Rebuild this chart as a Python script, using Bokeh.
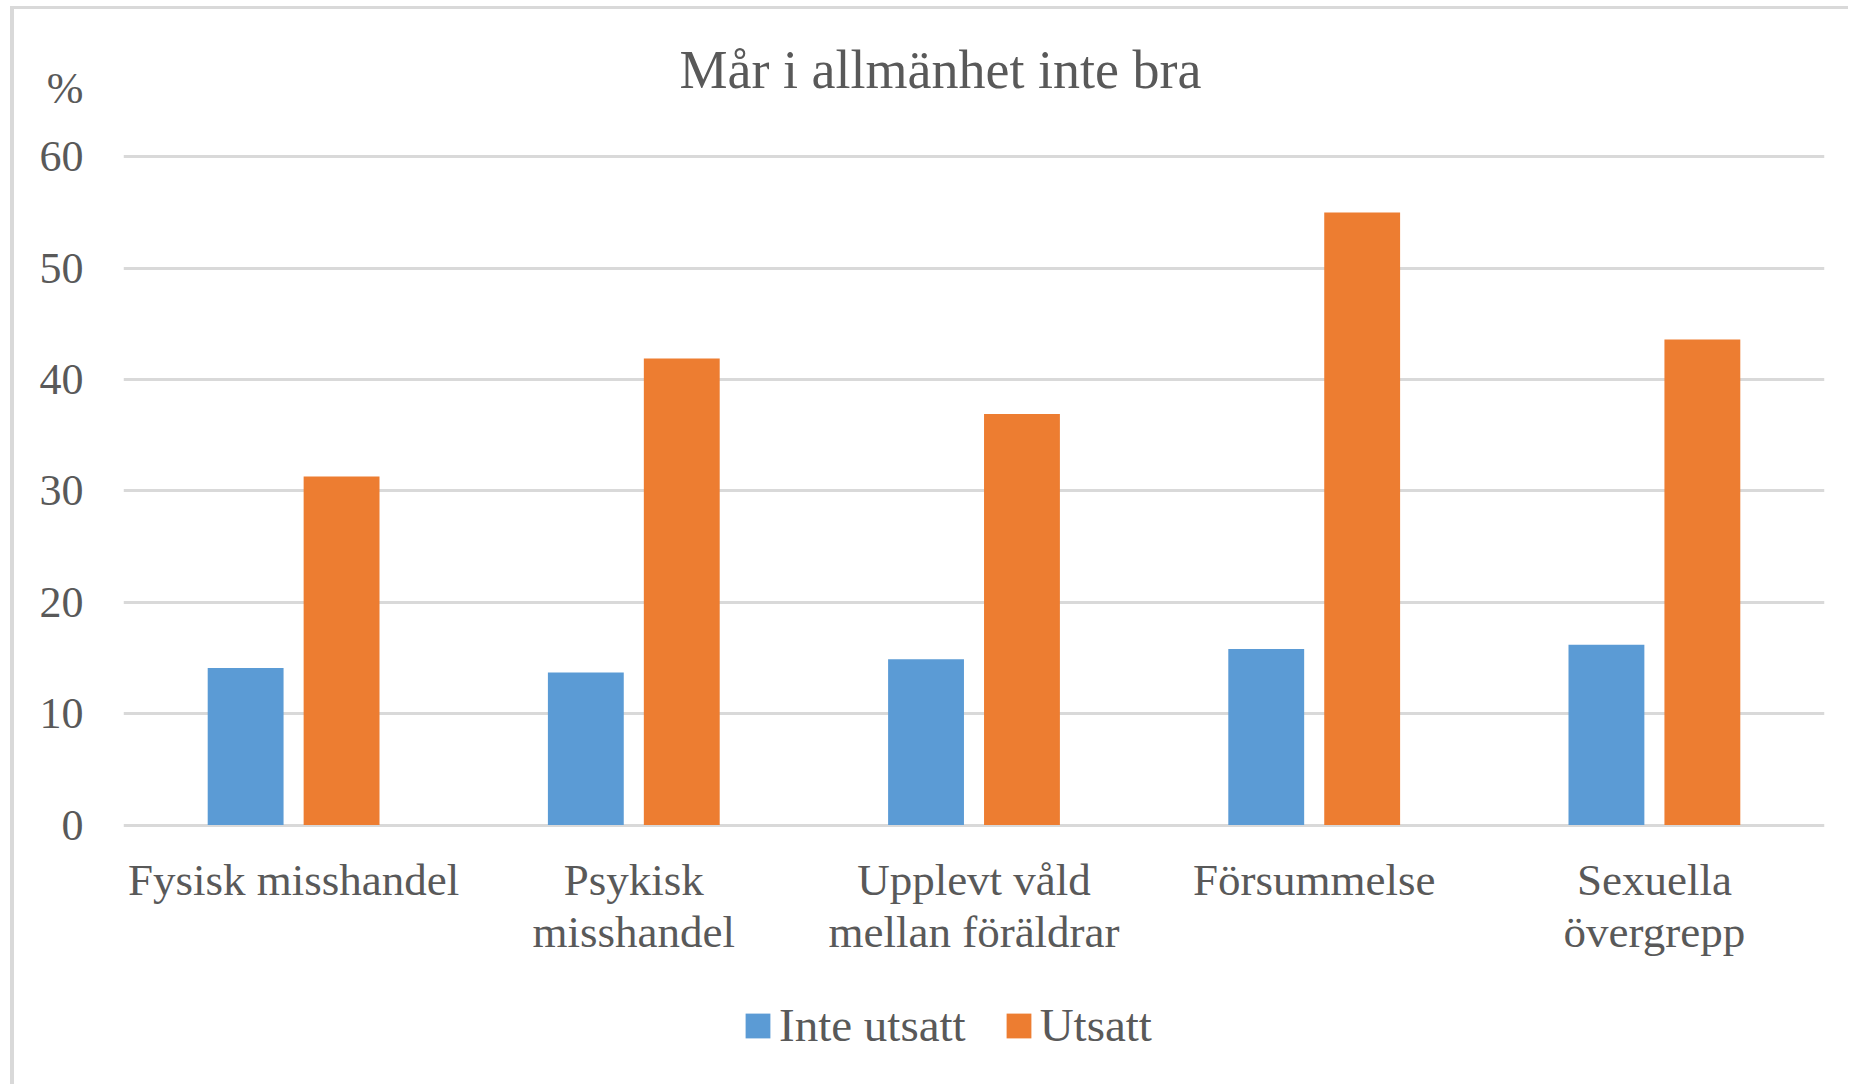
from bokeh.plotting import figure
from bokeh.models import ColumnDataSource, FactorRange, Range1d, FixedTicker, Label, Legend, LegendItem
from bokeh.core.properties import value
from bokeh.transform import dodge
from bokeh.embed import file_html
from bokeh.resources import INLINE

# ---- data ----
categories = ["Fysisk misshandel", "Psykisk\nmisshandel", "Upplevt våld\nmellan föräldrar",
              "Försummelse", "Sexuella\növergrepp"]
inte_utsatt = [14.1, 13.7, 14.9, 15.8, 16.2]
utsatt = [31.3, 41.9, 36.9, 55.0, 43.6]
series_names = ["Inte utsatt", "Utsatt"]
y_ticks = [0, 10, 20, 30, 40, 50, 60]
title_text = "Mår i allmänhet inte bra"
y_unit = "%"

BLUE = "#5b9bd5"
ORANGE = "#ed7d31"
TEXT = "#595959"
GRID = "#d9d9d9"
FONT = "Liberation Serif"

src = ColumnDataSource(dict(cat=categories, inte=inte_utsatt, uts=utsatt))

# the frame reaches down to the legend; the value axis only shows 0..60
p = figure(width=1838, height=1078,
           x_range=FactorRange(*categories, range_padding=0),
           y_range=Range1d(-23.2, 71.43),
           output_backend="svg", toolbar_location=None,
           min_border_left=109, min_border_right=28, min_border_top=20, min_border_bottom=4)
p.styles = {"margin-left": "10px", "margin-top": "6px",
            "border-left": f"4px solid {GRID}", "border-top": f"3px solid {GRID}"}
p.outline_line_color = None
p.background_fill_color = "white"
p.border_fill_color = "white"

r1 = p.vbar(x=dodge("cat", -0.141, range=p.x_range), top="inte", width=0.223, source=src,
            fill_color=BLUE, line_color=None)
r2 = p.vbar(x=dodge("cat", 0.141, range=p.x_range), top="uts", width=0.223, source=src,
            fill_color=ORANGE, line_color=None)

# grid
p.xgrid.grid_line_color = None
p.ygrid.ticker = FixedTicker(ticks=y_ticks)
p.ygrid.grid_line_color = GRID
p.ygrid.grid_line_width = 3

# y axis (the unit sign "%" sits above the top tick, like the reference)
unit_pos = 66.15
p.yaxis.ticker = FixedTicker(ticks=y_ticks + [unit_pos])
p.yaxis.major_label_overrides = {unit_pos: y_unit}
p.yaxis.axis_line_color = None
p.yaxis.major_tick_line_color = None
p.yaxis.minor_tick_line_color = None
p.yaxis.major_tick_out = 0
p.yaxis.major_tick_in = 0
p.yaxis.major_label_standoff = 40
p.yaxis.major_label_text_font = FONT
p.yaxis.major_label_text_font_size = "44px"
p.yaxis.major_label_text_color = TEXT

# category labels under the zero line, placed through the categorical scale
p.xaxis.visible = False
p.text(x="cat", y=-2.64, text="cat", source=src, text_align="center", text_baseline="top",
       text_font=value(FONT), text_font_size="45px",
       text_line_height=1.05, text_color=TEXT)

# title
p.add_layout(Label(x=2.4015, y=67.79, text=title_text, text_align="center",
                   text_baseline="middle", text_font=FONT, text_font_size="54px",
                   text_color=TEXT))

legend = Legend(items=[LegendItem(label=series_names[0], renderers=[r1]),
                       LegendItem(label=series_names[1], renderers=[r2])],
                orientation="horizontal", location=(619, 31),
                glyph_width=31, glyph_height=31, label_standoff=6, spacing=37,
                padding=0, margin=0, border_line_color=None, background_fill_alpha=0,
                label_text_font=FONT, label_text_font_size="47px", label_text_color=TEXT)
p.add_layout(legend, "center")

open("out.html", "w").write(file_html(p, INLINE))
